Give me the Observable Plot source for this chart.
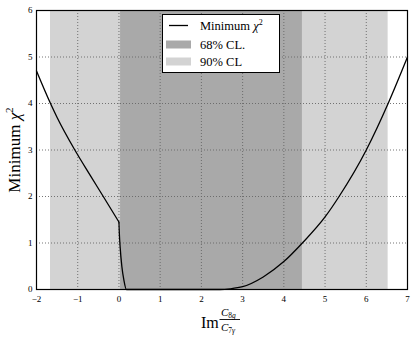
<!DOCTYPE html>
<html><head><meta charset="utf-8">
<script src="https://cdn.jsdelivr.net/npm/d3@7"></script>
<script src="https://cdn.jsdelivr.net/npm/@observablehq/plot@0.6"></script>
<style>body{margin:0;background:#fff}</style>
</head><body><div id="chart"></div>
<script>
const curveX = [-2, -1.66, -1.5, -1.07, -0.7, -0.38, 0, 0.01, 0.03, 0.07, 0.12, 0.18, 1.0, 2.0, 2.45, 2.7, 3.0, 3.5, 4.0, 4.45, 5.0, 5.34, 6.0, 6.53, 7.0];
const curveY = [4.7, 4.0, 3.7, 3.0, 2.46, 2.0, 1.45, 1.2, 0.9, 0.5, 0.2, 0, 0, 0, 0, 0.015, 0.06, 0.27, 0.6, 1.0, 1.56, 2.0, 3.0, 4.0, 5.0];
const band90 = [-1.66, 6.53];
const band68 = [0.04, 4.45];
const xTicks = [-2, -1, 0, 1, 2, 3, 4, 5, 6, 7];
const yTicks = [0, 1, 2, 3, 4, 5, 6];
const legendLabels = ["Minimum χ²", "68% CL.", "90% CL"];

const curve = curveX.map((x, i) => ({x, y: curveY[i]}));
const kink = curveX.indexOf(0);
const leftPart = curve.slice(0, kink + 1);
const rightPart = curve.slice(kink);
const bands = [
  {x1: band90[0], x2: band90[1], fill: "#d3d3d3"},
  {x1: band68[0], x2: band68[1], fill: "#a9a9a9"}
];
const font = "'Liberation Serif', 'DejaVu Serif', serif";

const plot = Plot.plot({
  width: 415, height: 342,
  marginLeft: 36, marginRight: 8, marginTop: 10, marginBottom: 53,
  style: {fontFamily: font, fontSize: "9px", background: "#fff"},
  x: {domain: [-2, 7], ticks: xTicks, tickFormat: d => d < 0 ? "−" + (-d) : String(d)},
  y: {domain: [0, 6], ticks: yTicks},
  marks: [
    Plot.rect(bands, {x1: "x1", x2: "x2", y1: () => 0, y2: () => 6, fill: "fill"}),
    Plot.gridX(xTicks, {stroke: "#666", strokeOpacity: 0.9, strokeDasharray: "1,2"}),
    Plot.gridY(yTicks, {stroke: "#666", strokeOpacity: 0.9, strokeDasharray: "1,2"}),
    Plot.line(leftPart, {x: "x", y: "y", stroke: "black", strokeWidth: 1.3, curve: "monotone-x"}),
    Plot.line(rightPart, {x: "x", y: "y", stroke: "black", strokeWidth: 1.3, curve: "monotone-x"}),
    Plot.axisX(xTicks, {tickSize: 0, tickPadding: 6, label: null, fontSize: 9, fill: "#000"}),
    Plot.axisY(yTicks, {tickSize: 0, tickPadding: 4, label: null, fontSize: 9, fill: "#000"}),
    Plot.frame({stroke: "black", strokeWidth: 1.2})
  ]
});
document.getElementById("chart").appendChild(plot);

const svg = d3.select(plot);
// y label
svg.append("text").attr("transform", "translate(20,150) rotate(-90)")
  .attr("text-anchor", "middle").attr("font-family", font).attr("font-size", 17)
  .attr("fill", "#000")
  .html('Minimum <tspan font-style="italic">χ</tspan><tspan font-size="11" dy="-7">2</tspan>');

// x label: Im C8g / C7γ
const xl = svg.append("g").attr("font-family", font).attr("fill", "#000").attr("text-anchor", "start");
xl.append("text").attr("x", 201).attr("y", 328).attr("font-size", 16).text("Im");
xl.append("text").attr("x", 221).attr("y", 316).attr("font-size", 11)
  .html('<tspan font-style="italic">C</tspan><tspan font-size="7.5" dy="2">8<tspan font-style="italic">g</tspan></tspan>');
xl.append("line").attr("x1", 219.5).attr("x2", 240).attr("y1", 319.5).attr("y2", 319.5)
  .attr("stroke", "#000").attr("stroke-width", 0.9);
xl.append("text").attr("x", 221).attr("y", 331).attr("font-size", 11)
  .html('<tspan font-style="italic">C</tspan><tspan font-size="7.5" dy="2">7<tspan font-style="italic">γ</tspan></tspan>');

// legend
const lg = svg.append("g").attr("font-family", font).attr("text-anchor", "start");
lg.append("rect").attr("x", 162.5).attr("y", 14.5).attr("width", 117).attr("height", 58)
  .attr("fill", "#fff").attr("stroke", "#000").attr("stroke-width", 1);
lg.append("line").attr("x1", 169).attr("x2", 188).attr("y1", 25.5).attr("y2", 25.5)
  .attr("stroke", "#000").attr("stroke-width", 1.3);
lg.append("rect").attr("x", 166).attr("y", 40.5).attr("width", 25).attr("height", 8).attr("fill", "#a9a9a9");
lg.append("rect").attr("x", 166).attr("y", 57.5).attr("width", 25).attr("height", 8).attr("fill", "#d3d3d3");
lg.append("text").attr("x", 200).attr("y", 29.5).attr("font-size", 12.5).attr("fill", "#000")
  .html('Minimum <tspan font-style="italic">χ</tspan><tspan font-size="8" dy="-5">2</tspan>');
lg.append("text").attr("x", 200).attr("y", 48.5).attr("font-size", 12.5).attr("fill", "#000").text(legendLabels[1]);
lg.append("text").attr("x", 200).attr("y", 66).attr("font-size", 12.5).attr("fill", "#000").text(legendLabels[2]);
</script></body></html>
